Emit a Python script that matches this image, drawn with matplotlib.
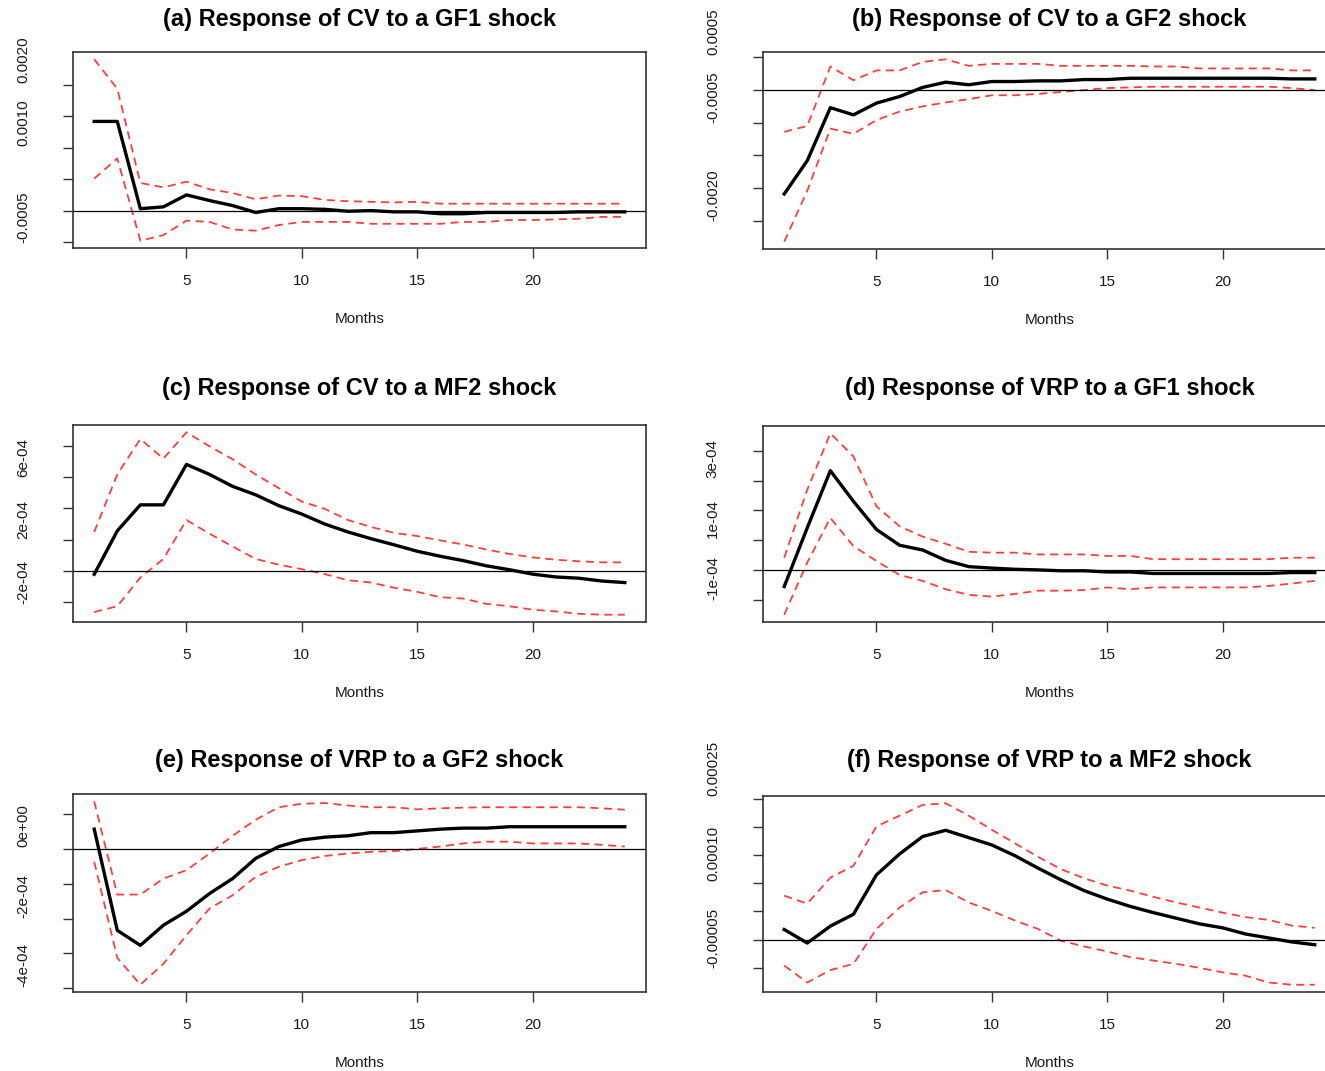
import matplotlib
matplotlib.use("Agg")
import matplotlib.pyplot as plt
import matplotlib.transforms as mtransforms
import numpy as np

plt.rcParams['font.family'] = ['Liberation Sans', 'DejaVu Sans']

months = np.arange(1, 25)

# (a) CV <- GF1
cv_gf1_irf = [0.00142, 0.00142, 0.00003, 0.00006, 0.00025, 0.00016, 0.00008, -0.00003, 0.00003, 0.00003,
              0.00002, -0.00001, 0.0, -0.00002, -0.00002, -0.00005, -0.00005, -0.00003, -0.00003, -0.00003,
              -0.00003, -0.00002, -0.00002, -0.00002]
cv_gf1_upper = [0.00241, 0.00194, 0.00044, 0.00037, 0.00046, 0.00034, 0.00028, 0.00018, 0.00024, 0.00023,
                0.00017, 0.00015, 0.00014, 0.00013, 0.00014, 0.00011, 0.00011, 0.00011, 0.00011, 0.00011,
                0.00011, 0.00011, 0.00011, 0.00011]
cv_gf1_lower = [0.00051, 0.00083, -0.00048, -0.00039, -0.00016, -0.00018, -0.0003, -0.00032, -0.00023, -0.00018,
                -0.00018, -0.00018, -0.00021, -0.00021, -0.00021, -0.00021, -0.00018, -0.00018, -0.00015, -0.00015,
                -0.00014, -0.00013, -0.0001, -0.0001]

# (b) CV <- GF2
cv_gf2_irf = [-0.00159, -0.00108, -0.00027, -0.00038, -0.0002, -0.0001, 0.00004, 0.00012, 0.00008, 0.00013,
              0.00013, 0.00014, 0.00014, 0.00016, 0.00016, 0.00018, 0.00018, 0.00018, 0.00018, 0.00018,
              0.00018, 0.00018, 0.00017, 0.00017]
cv_gf2_upper = [-0.00064, -0.00055, 0.00036, 0.00015, 0.0003, 0.0003, 0.00043, 0.00047, 0.00037, 0.0004,
                0.0004, 0.0004, 0.00037, 0.00037, 0.00037, 0.00037, 0.00036, 0.00036, 0.00033, 0.00033,
                0.00033, 0.00033, 0.0003, 0.0003]
cv_gf2_lower = [-0.00232, -0.00154, -0.00059, -0.00067, -0.00046, -0.00033, -0.00025, -0.00019, -0.00014, -0.00008,
                -0.00008, -0.00006, -0.00003, 0.0, 0.00003, 0.00004, 0.00005, 0.00005, 0.00005, 0.00005,
                0.00005, 0.00005, 0.00003, 0.0]

# (c) CV <- MF2
cv_mf2_irf = [-0.2e-4, 2.57e-4, 4.23e-4, 4.23e-4, 6.81e-4, 6.17e-4, 5.41e-4, 4.87e-4, 4.18e-4, 3.64e-4,
              3.0e-4, 2.5e-4, 2.07e-4, 1.68e-4, 1.27e-4, 0.95e-4, 0.67e-4, 0.34e-4, 0.09e-4, -0.19e-4,
              -0.37e-4, -0.45e-4, -0.63e-4, -0.73e-4]
cv_mf2_upper = [2.5e-4, 6.17e-4, 8.43e-4, 7.18e-4, 8.86e-4, 7.96e-4, 7.14e-4, 6.17e-4, 5.3e-4, 4.44e-4,
                3.97e-4, 3.26e-4, 2.82e-4, 2.44e-4, 2.24e-4, 1.96e-4, 1.7e-4, 1.38e-4, 1.1e-4, 0.88e-4,
                0.73e-4, 0.63e-4, 0.56e-4, 0.56e-4]
cv_mf2_lower = [-2.61e-4, -2.24e-4, -0.41e-4, 0.78e-4, 3.26e-4, 2.39e-4, 1.57e-4, 0.78e-4, 0.41e-4, 0.13e-4,
                -0.19e-4, -0.58e-4, -0.73e-4, -1.06e-4, -1.32e-4, -1.66e-4, -1.75e-4, -2.09e-4, -2.24e-4, -2.46e-4,
                -2.57e-4, -2.72e-4, -2.78e-4, -2.78e-4]

# (d) VRP <- GF1
vrp_gf1_irf = [-0.56e-4, 1.42e-4, 3.34e-4, 2.31e-4, 1.36e-4, 0.83e-4, 0.67e-4, 0.32e-4, 0.11e-4, 0.06e-4,
               0.02e-4, 0.0, -0.03e-4, -0.03e-4, -0.07e-4, -0.07e-4, -0.12e-4, -0.12e-4, -0.12e-4, -0.12e-4,
               -0.12e-4, -0.12e-4, -0.09e-4, -0.09e-4]
vrp_gf1_upper = [0.41e-4, 2.7e-4, 4.6e-4, 3.82e-4, 2.14e-4, 1.47e-4, 1.12e-4, 0.88e-4, 0.61e-4, 0.58e-4,
                 0.58e-4, 0.52e-4, 0.52e-4, 0.52e-4, 0.47e-4, 0.47e-4, 0.36e-4, 0.36e-4, 0.36e-4, 0.36e-4,
                 0.36e-4, 0.36e-4, 0.41e-4, 0.41e-4]
vrp_gf1_lower = [-1.51e-4, 0.25e-4, 1.75e-4, 0.8e-4, 0.3e-4, -0.17e-4, -0.37e-4, -0.65e-4, -0.84e-4, -0.9e-4,
                 -0.81e-4, -0.7e-4, -0.7e-4, -0.68e-4, -0.59e-4, -0.65e-4, -0.59e-4, -0.59e-4, -0.59e-4, -0.59e-4,
                 -0.59e-4, -0.54e-4, -0.46e-4, -0.37e-4]

# (e) VRP <- GF2
vrp_gf2_irf = [0.57e-4, -2.34e-4, -2.77e-4, -2.19e-4, -1.79e-4, -1.28e-4, -0.85e-4, -0.27e-4, 0.07e-4, 0.26e-4,
               0.34e-4, 0.38e-4, 0.47e-4, 0.47e-4, 0.52e-4, 0.57e-4, 0.6e-4, 0.6e-4, 0.64e-4, 0.64e-4,
               0.64e-4, 0.64e-4, 0.64e-4, 0.64e-4]
vrp_gf2_upper = [1.37e-4, -1.31e-4, -1.31e-4, -0.85e-4, -0.61e-4, -0.13e-4, 0.38e-4, 0.84e-4, 1.2e-4, 1.3e-4,
                 1.32e-4, 1.25e-4, 1.2e-4, 1.2e-4, 1.14e-4, 1.17e-4, 1.19e-4, 1.2e-4, 1.2e-4, 1.2e-4,
                 1.2e-4, 1.2e-4, 1.17e-4, 1.13e-4]
vrp_gf2_lower = [-0.37e-4, -3.13e-4, -3.9e-4, -3.3e-4, -2.48e-4, -1.71e-4, -1.33e-4, -0.8e-4, -0.51e-4, -0.32e-4,
                 -0.2e-4, -0.13e-4, -0.08e-4, -0.06e-4, 0.0, 0.07e-4, 0.16e-4, 0.21e-4, 0.21e-4, 0.16e-4,
                 0.16e-4, 0.16e-4, 0.12e-4, 0.07e-4]

# (f) VRP <- MF2
vrp_mf2_irf = [0.18e-4, -0.06e-4, 0.24e-4, 0.45e-4, 1.15e-4, 1.52e-4, 1.83e-4, 1.94e-4, 1.81e-4, 1.68e-4,
               1.49e-4, 1.27e-4, 1.06e-4, 0.87e-4, 0.72e-4, 0.59e-4, 0.48e-4, 0.38e-4, 0.28e-4, 0.21e-4,
               0.1e-4, 0.03e-4, -0.04e-4, -0.09e-4]
vrp_mf2_upper = [0.78e-4, 0.64e-4, 1.1e-4, 1.31e-4, 2.01e-4, 2.2e-4, 2.39e-4, 2.42e-4, 2.2e-4, 1.95e-4,
                 1.71e-4, 1.47e-4, 1.25e-4, 1.09e-4, 0.96e-4, 0.87e-4, 0.76e-4, 0.66e-4, 0.57e-4, 0.48e-4,
                 0.4e-4, 0.35e-4, 0.25e-4, 0.21e-4]
vrp_mf2_lower = [-0.46e-4, -0.76e-4, -0.54e-4, -0.43e-4, 0.19e-4, 0.57e-4, 0.84e-4, 0.88e-4, 0.66e-4, 0.51e-4,
                 0.34e-4, 0.19e-4, -0.02e-4, -0.12e-4, -0.21e-4, -0.31e-4, -0.37e-4, -0.43e-4, -0.5e-4, -0.58e-4,
                 -0.64e-4, -0.76e-4, -0.8e-4, -0.8e-4]

titles = ['(a) Response of CV to a GF1 shock', '(b) Response of CV to a GF2 shock',
          '(c) Response of CV to a MF2 shock', '(d) Response of VRP to a GF1 shock',
          '(e) Response of VRP to a GF2 shock', '(f) Response of VRP to a MF2 shock']

x_ticks = [5, 10, 15, 20]
y_ticks = [
    [-0.0005, 0.0, 0.0005, 0.0010, 0.0015, 0.0020],
    [-0.0020, -0.0015, -0.0010, -0.0005, 0.0, 0.0005],
    [-2e-4, 0.0, 2e-4, 4e-4, 6e-4, 8e-4],
    [-1e-4, 0.0, 1e-4, 2e-4, 3e-4, 4e-4],
    [-4e-4, -3e-4, -2e-4, -1e-4, 0.0, 1e-4],
    [-5e-5, 0.0, 5e-5, 1e-4, 1.5e-4, 2e-4, 2.5e-4],
]
y_ticklabels = [
    ['-0.0005', '', '', '0.0010', '', '0.0020'],
    ['-0.0020', '', '', '-0.0005', '', '0.0005'],
    ['-2e-04', '', '2e-04', '', '6e-04', ''],
    ['-1e-04', '', '1e-04', '', '3e-04', ''],
    ['-4e-04', '', '-2e-04', '', '0e+00', ''],
    ['-0.00005', '', '', '0.00010', '', '', '0.00025'],
]

series = [
    (cv_gf1_irf, cv_gf1_upper, cv_gf1_lower),
    (cv_gf2_irf, cv_gf2_upper, cv_gf2_lower),
    (cv_mf2_irf, cv_mf2_upper, cv_mf2_lower),
    (vrp_gf1_irf, vrp_gf1_upper, vrp_gf1_lower),
    (vrp_gf2_irf, vrp_gf2_upper, vrp_gf2_lower),
    (vrp_mf2_irf, vrp_mf2_upper, vrp_mf2_lower),
]

# box position in pixels (left, top, right, bottom), title pad (pt), y label shift (px)
layout = [
    ((73, 52, 646, 248), 18.5, 25),
    ((763, 52, 1336, 249), 18.7, 26),
    ((73, 425, 646, 622), 21.6, 20),
    ((763, 426, 1336, 622), 22.0, 22),
    ((73, 794, 646, 992), 19.4, 23),
    ((763, 796, 1336, 992), 21.0, 30),
]

W, H = 1325, 1071
fig = plt.figure(figsize=(W / 100, H / 100), dpi=100)

red = '#ff3c3c'
box_col = '#333333'

for i in range(6):
    (l, t, r, b), title_pad, shift_px = layout[i]
    irf, upper, lower = series[i]
    ax = fig.add_axes([l / W, 1 - b / H, (r - l) / W, (b - t) / H])

    ax.plot(months, upper, color=red, lw=1.3, dashes=(4.5, 3))
    ax.plot(months, lower, color=red, lw=1.3, dashes=(4.5, 3))
    ax.plot(months, irf, color='black', lw=2.4)
    ax.axhline(0, color='black', lw=0.9)
    ax.margins(x=0.04, y=0.04)

    ax.set_xticks(x_ticks)
    ax.set_yticks(y_ticks[i])
    ax.set_yticklabels(y_ticklabels[i])
    for sp in ax.spines.values():
        sp.set_color(box_col)
        sp.set_linewidth(1.2)

    ax.tick_params(direction='out', length=7, width=1.0, color=box_col,
                   labelsize=11, labelcolor='#1a1a1a')
    ax.tick_params(axis='x', pad=12)
    ax.tick_params(axis='y', pad=24, labelrotation=90)

    # labels sit a bit above their ticks in the original
    shift = mtransforms.ScaledTranslation(0, shift_px / 100, fig.dpi_scale_trans)
    for lab in ax.get_yticklabels():
        lab.set_va('center')
        lab.set_transform(lab.get_transform() + shift)

    ax.set_title(titles[i], fontsize=17, fontweight='bold', pad=title_pad)
    ax.set_xlabel('Months', fontsize=11, color='#1a1a1a')
    ax.xaxis.set_label_coords(0.5, 0, transform=ax.transAxes +
                              mtransforms.ScaledTranslation(0, -0.64, fig.dpi_scale_trans))

fig.savefig('out.png', dpi=100)
